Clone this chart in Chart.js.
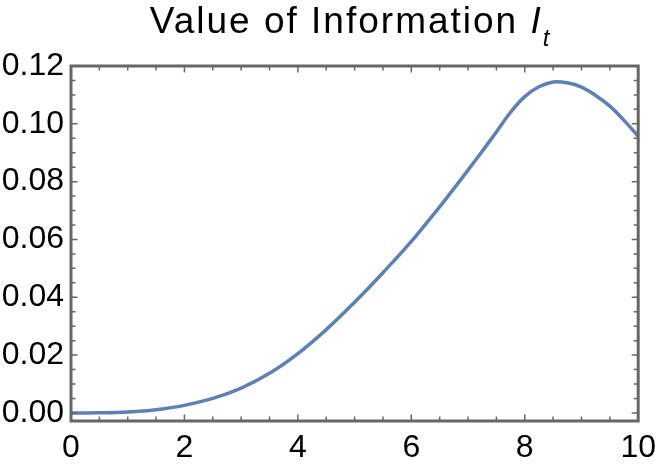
<!DOCTYPE html>
<html>
<head>
<meta charset="utf-8">
<script src="https://cdn.jsdelivr.net/npm/chart.js@4"></script>
<style>
  body { margin: 0; background: #ffffff; }
  #wrap { width: 664px; height: 464px; position: relative; }
</style>
</head>
<body>
<div id="wrap"><canvas id="chart"></canvas></div>
<script>
// values (denser past t = 6.5, where it bends)
const tValues = [0, 0.5, 1, 1.5, 2, 2.5, 3, 3.5, 4, 4.5, 5, 5.5, 6, 6.5, 6.75, 7, 7.25, 7.5, 7.75, 8, 8.25, 8.5, 8.75, 9, 9.25, 9.5, 9.75, 10];
const infoValues = [0, 0.00002, 0.0003, 0.0011, 0.0026, 0.005, 0.0086, 0.0137, 0.0205, 0.0288, 0.0383, 0.0485, 0.0593, 0.0713, 0.0776, 0.084, 0.0905, 0.0972, 0.104, 0.1094, 0.1128, 0.1145, 0.1142, 0.1127, 0.1098, 0.1061, 0.1012, 0.0957];
const xTicks = [0, 2, 4, 6, 8, 10];
const yTicks = [0, 0.02, 0.04, 0.06, 0.08, 0.1, 0.12];
const titleMain = "Value of Information ";
const titleSym = "I";
const titleSub = "t";

const frameColor = "#666666";
const lineColor = "#5E81B5";
const fontFamily = "'Liberation Sans', Arial, sans-serif";

// frame with inward ticks on all four sides
const framePlugin = {
  id: "frame",
  afterDraw(chart) {
    const ctx = chart.ctx;
    const a = chart.chartArea;
    const xs = chart.scales.x, ys = chart.scales.y;
    ctx.save();
    ctx.strokeStyle = frameColor;
    ctx.lineWidth = 1.5;
    ctx.beginPath();
    for (let v = 0; v <= 10.001; v += 0.5) {
      const px = xs.getPixelForValue(v);
      const len = Math.abs(v % 2) < 1e-6 ? 6.5 : 4.5;
      ctx.moveTo(px, a.bottom); ctx.lineTo(px, a.bottom - len);
      ctx.moveTo(px, a.top); ctx.lineTo(px, a.top + len);
    }
    for (let i = 0; i <= 24; i++) {
      const v = i * 0.005;
      const py = ys.getPixelForValue(v);
      const len = i % 4 === 0 ? 6.5 : 4.5;
      ctx.moveTo(a.left, py); ctx.lineTo(a.left + len, py);
      ctx.moveTo(a.right, py); ctx.lineTo(a.right - len, py);
    }
    ctx.stroke();
    ctx.lineWidth = 3;
    ctx.strokeRect(a.left, a.top, a.right - a.left, a.bottom - a.top);
    ctx.restore();
  }
};

// title with italic symbol and subscript
const titlePlugin = {
  id: "mathTitle",
  afterDraw(chart) {
    const ctx = chart.ctx;
    const a = chart.chartArea;
    ctx.save();
    ctx.fillStyle = "#000000";
    ctx.textBaseline = "alphabetic";
    ctx.letterSpacing = "2px";
    ctx.font = "37px " + fontFamily;
    const w1 = ctx.measureText(titleMain).width;
    ctx.font = "italic 37px " + fontFamily;
    const w2 = ctx.measureText(titleSym).width;
    ctx.font = "italic 24px " + fontFamily;
    const w3 = ctx.measureText(titleSub).width;
    let x = (a.left + a.right) / 2 - (w1 + w2 + w3) / 2 - 4;
    const base = 33;
    ctx.font = "37px " + fontFamily;
    ctx.fillText(titleMain, x, base);
    x += w1;
    ctx.font = "italic 37px " + fontFamily;
    ctx.fillText(titleSym, x, base);
    x += w2;
    ctx.font = "italic 24px " + fontFamily;
    ctx.fillText(titleSub, x, base + 13);
    ctx.restore();
  }
};

new Chart(document.getElementById("chart"), {
  type: "line",
  data: {
    datasets: [{
      data: tValues.map((t, i) => ({ x: t, y: infoValues[i] })),
      borderColor: lineColor,
      borderWidth: 3.5,
      pointRadius: 0,
      tension: 0.4,
      fill: false
    }]
  },
  options: {
    responsive: true,
    maintainAspectRatio: false,
    animation: false,
    layout: { padding: { top: 66, right: 19, left: 0, bottom: 0 } },
    plugins: {
      legend: { display: false },
      tooltip: { enabled: false },
      title: { display: false }
    },
    scales: {
      x: {
        type: "linear",
        min: 0,
        max: 10,
        afterFit: (s) => { s.height = 43; },
        afterBuildTicks: (s) => { s.ticks = xTicks.map(v => ({ value: v })); },
        grid: { display: false, drawTicks: false },
        border: { display: false },
        ticks: {
          color: "#000000",
          padding: 8,
          maxRotation: 0,
          font: { family: fontFamily, size: 32 },
          callback: (v) => String(v)
        }
      },
      y: {
        min: -0.0028,
        max: 0.12,
        afterFit: (s) => { s.width = 71; },
        afterBuildTicks: (s) => { s.ticks = yTicks.map(v => ({ value: v })); },
        grid: { display: false, drawTicks: false },
        border: { display: false },
        ticks: {
          color: "#000000",
          padding: 7,
          font: { family: fontFamily, size: 32 },
          callback: (v) => Number(v).toFixed(2)
        }
      }
    }
  },
  plugins: [framePlugin, titlePlugin]
});
</script>
</body>
</html>
